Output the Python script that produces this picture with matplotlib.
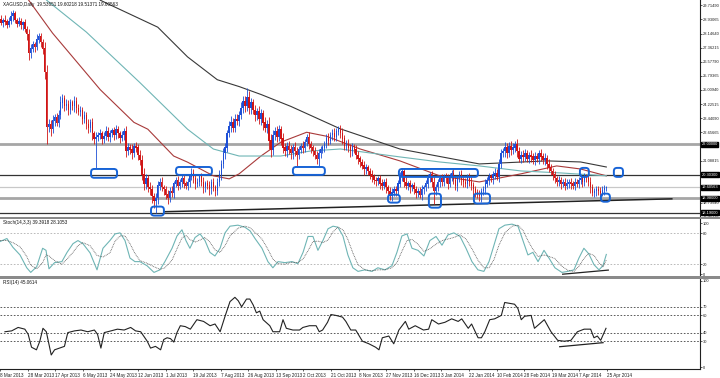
import matplotlib
matplotlib.use("Agg")
import matplotlib.pyplot as plt
from matplotlib.patches import FancyBboxPatch, Rectangle
import numpy as np

plt.rcParams["font.family"] = ["Liberation Sans Narrow", "Liberation Sans", "DejaVu Sans"]

# ---------------- data ----------------
first_bar = 2
first_open = 29.00
closes = [
    28.95, 28.75, 28.90, 28.80, 28.60, 28.85, 29.10, 29.25, 28.90, 28.70,
    28.85, 28.60, 28.75, 28.40, 28.10, 27.05, 27.30, 27.55, 27.40, 27.80,
    28.00, 27.65, 27.30, 26.00, 22.95, 23.10, 22.85, 23.30, 23.50, 23.20,
    23.60, 24.30, 24.55, 24.10, 24.20, 23.90, 24.30, 24.10, 24.40, 24.00,
    23.80, 23.90, 23.40, 23.60, 23.10, 22.90, 23.20, 22.60, 22.30, 22.40,
    22.50, 22.60, 22.30, 22.45, 22.70, 22.40, 22.60, 22.75, 22.50, 22.80,
    22.60, 22.35, 22.50, 22.70, 21.60, 21.80, 21.70, 21.50, 21.90, 21.80,
    21.40, 21.10, 20.30, 19.80, 20.10, 19.60, 19.50, 19.10, 18.85, 19.00,
    19.70, 19.90, 19.60, 19.50, 19.20, 19.00, 19.40, 19.30, 19.80, 20.00,
    19.70, 19.90, 20.10, 19.80, 19.70, 19.90, 20.20, 20.40, 20.10, 19.80,
    19.90, 20.20, 19.90, 19.60, 19.80, 19.70, 19.50, 19.90, 19.60, 19.40,
    19.90, 20.30, 20.90, 21.50, 21.80, 22.60, 23.00, 23.20, 22.90, 23.40,
    23.30, 23.60, 24.00, 24.40, 24.10, 24.60, 24.00, 24.30, 23.90, 23.60,
    23.80, 23.40, 23.70, 23.20, 22.90, 23.10, 22.20, 21.70, 22.50, 22.70,
    22.40, 22.80, 22.30, 21.80, 21.60, 21.90, 21.70, 21.50, 21.80, 21.60,
    21.40, 21.70, 21.90, 21.80, 22.10, 22.40, 22.00, 21.80, 21.60, 21.40,
    21.20, 21.50, 21.70, 21.80, 22.00, 22.30, 22.20, 22.50, 22.60, 22.40,
    22.70, 22.80, 22.60, 22.30, 21.90, 22.00, 21.80, 21.60, 21.80, 21.70,
    21.40, 21.20, 21.00, 20.80, 20.60, 20.70, 20.50, 20.30, 20.20, 20.00,
    19.95, 20.10, 19.80, 19.70, 19.90, 19.60, 19.40, 19.10, 19.30, 19.50,
    19.40, 19.80, 20.20, 20.50, 19.90, 19.70, 19.80, 19.60, 19.70, 19.50,
    19.30, 19.40, 19.20, 19.50, 19.60, 19.80, 20.10, 20.30, 19.90, 19.40,
    19.60, 19.90, 20.10, 19.90, 20.20, 20.10, 19.80, 20.20, 20.40, 20.00,
    19.70, 20.10, 20.30, 20.00, 19.90, 19.80, 20.20, 19.90, 19.70, 19.50,
    19.30, 19.20, 19.10, 19.40, 19.50, 19.80, 20.00, 20.20, 20.10, 20.30,
    20.40, 20.20, 20.90, 21.50, 21.60, 21.80, 21.50, 21.90, 21.70, 21.80,
    22.00, 21.60, 21.20, 21.40, 21.30, 21.50, 21.20, 21.40, 21.30, 21.10,
    21.30, 21.20, 21.50, 21.30, 21.10, 21.20, 20.90, 20.70, 20.50, 20.30,
    20.10, 19.90, 20.00, 19.80, 19.90, 19.70, 19.80, 19.90, 19.80, 19.70,
    19.90, 19.80, 20.00, 20.10, 19.90, 20.20, 20.10, 19.90, 19.60, 19.30,
    19.40, 19.50, 19.40, 19.30, 19.45, 19.55, 19.60,
]
wick_up = [
    .15, .20, .10, .25, .15, .20, .30, .20, .15, .10,
    .20, .15, .10, .20, .15, .30, .25, .20, .15, .30,
    .20, .15, .20, .35, .40, .30, .25, .30, .20, .25,
    .30, .40, .25, .20, .30, .25, .20, .15, .30, .20,
    .25, .20, .15, .25, .20, .30, .20, .25, .15, .30,
    .20, .25, .15, .20, .30, .25, .20, .15, .20, .25,
    .20, .15, .25, .20, .30, .25, .20, .30, .15, .20,
    .20, .25, .30, .35, .25, .20, .30, .25, .20, .30,
    .25, .20, .30, .15, .20, .25, .20, .30, .15, .20,
    .25, .15, .20, .25, .15, .20, .15, .30, .20, .25,
    .20, .15, .20, .25, .15, .20, .25, .15, .20, .15,
    .20, .25, .20, .30, .25, .20, .30, .35, .25, .30,
    .30, .25, .35, .30, .25, .50, .35, .25, .20, .30,
    .20, .30, .25, .20, .30, .25, .40, .35, .30, .25,
    .30, .25, .20, .30, .25, .20, .30, .25, .20, .30,
    .25, .20, .15, .30, .20, .15, .25, .20, .15, .25,
    .20, .25, .20, .15, .20, .25, .30, .20, .25, .30,
    .20, .20, .25, .30, .20, .25, .30, .20, .25, .20,
    .25, .20, .15, .20, .25, .20, .15, .20, .25, .15,
    .20, .15, .20, .25, .15, .20, .15, .20, .25, .20,
    .15, .20, .25, .15, .20, .25, .15, .20, .15, .20,
    .20, .15, .20, .25, .15, .20, .25, .15, .20, .30,
    .20, .15, .20, .25, .15, .20, .25, .20, .15, .20,
    .25, .15, .20, .25, .15, .20, .15, .20, .25, .20,
    .15, .20, .25, .15, .20, .25, .15, .20, .15, .20,
    .25, .20, .30, .25, .20, .30, .25, .20, .30, .25,
    .20, .30, .25, .20, .30, .25, .20, .15, .25, .20,
    .25, .20, .15, .25, .20, .30, .20, .25, .20, .15,
    .20, .15, .25, .20, .15, .20, .25, .15, .20, .15,
    .20, .15, .20, .25, .15, .20, .15, .20, .25, .20,
    .15, .20, .15, .20, .25, .20, .10,
]
wick_dn = [
    .20, .15, .25, .20, .15, .10, .20, .25, .15, .20,
    .15, .20, .25, .15, .30, .35, .25, .20, .30, .15,
    .20, .25, .30, .40, .95, .30, .40, .25, .30, .20,
    .25, .20, .30, .25, .20, .30, .25, .20, .30, .25,
    .20, .25, .30, .20, .25, .30, .20, .35, .30, 1.60,
    .25, .20, .30, .25, .20, .25, .30, .20, .25, .20,
    .25, .30, .20, .25, .30, .20, .25, .30, .20, .25,
    .30, .25, .30, .35, .30, .25, .30, .35, .40, .66,
    .30, .25, .20, .30, .25, .35, .20, .25, .30, .20,
    .25, .20, .30, .25, .20, .25, .30, .20, .25, .30,
    .20, .25, .20, .30, .25, .20, .30, .25, .20, .30,
    .25, .20, .30, .25, .30, .25, .20, .30, .25, .20,
    .25, .30, .20, .25, .30, .25, .30, .35, .25, .30,
    .25, .30, .35, .40, .25, .30, .45, .40, .30, .25,
    .30, .25, .35, .30, .25, .30, .25, .35, .30, .25,
    .60, .25, .20, .30, .25, .20, .25, .30, .25, .20,
    .30, .40, .25, .20, .25, .20, .25, .20, .25, .20,
    .25, .20, .25, .30, .25, .20, .25, .30, .25, .20,
    .25, .30, .25, .20, .30, .25, .20, .25, .30, .20,
    .25, .20, .30, .25, .20, .30, .25, .20, .25, .20,
    .30, .25, .20, .25, .30, .20, .25, .30, .20, .25,
    .30, .25, .20, .30, .25, .20, .25, .20, .30, .75,
    .25, .20, .30, .25, .20, .25, .30, .20, .25, .20,
    .25, .30, .20, .25, .30, .20, .25, .20, .25, .30,
    .25, .20, .25, .30, .20, .25, .20, .25, .20, .30,
    .25, .20, .30, .25, .20, .30, .25, .20, .30, .25,
    .25, .30, .20, .25, .30, .25, .20, .25, .30, .20,
    .25, .20, .30, .25, .20, .25, .30, .25, .20, .30,
    .25, .20, .25, .30, .20, .25, .20, .25, .30, .20,
    .25, .20, .25, .20, .30, .25, .20, .25, .30, .20,
    .25, .30, .20, .25, .20, .25, .15,
]

# moving averages (bar index, price)
ma_fast = [(15, 30.3), (29, 28.17), (53, 25.03), (70, 23.21), (77, 22.83), (90, 21.34),
           (97, 21.0), (110, 20.24), (118, 20.07), (123, 20.35), (134, 21.34), (144, 22.11),
           (157, 22.66), (167, 22.44), (184, 21.73), (204, 21.07), (224, 20.24), (244, 19.9),
           (265, 20.35), (283, 20.79), (295, 20.62), (308, 20.24)]
ma_mid = [(26, 30.0), (46, 28.23), (73, 25.42), (97, 22.83), (110, 21.73), (123, 21.34),
          (144, 21.34), (159, 21.62), (174, 21.73), (204, 21.29), (224, 21.01), (244, 20.79),
          (265, 20.51), (285, 20.40), (308, 20.24)]
ma_slow = [(53, 30.0), (82, 28.5), (97, 26.85), (112, 25.58), (123, 25.2), (134, 24.76),
           (149, 24.1), (174, 22.85), (204, 21.73), (244, 20.9), (278, 21.07), (295, 21.01),
           (308, 20.73)]

stoch_main = [(2.5, 64), (6, 70), (9, 53), (12.6, 38), (16, 13), (18, 4), (21, 15), (24, 51),
              (25.7, 47), (27.2, 11), (30, 23), (33.7, 25), (36.3, 43), (39.3, 60), (41.8, 66),
              (44.3, 60), (47.9, 42), (51.4, 9), (54.4, 51), (57.9, 66), (60.5, 79), (63, 81),
              (65.5, 66), (68, 32), (70.5, 25), (73, 25), (76.6, 17), (80.1, 4), (83.1, 9),
              (85.6, 25), (89.2, 51), (91.7, 75), (94.2, 87), (96.2, 66), (98.2, 51), (100.8, 72),
              (103.3, 79), (105.8, 66), (108.3, 43), (110.8, 36), (113.4, 51), (115.9, 81),
              (118.4, 94), (122.4, 96), (125.9, 92), (128.5, 85), (131, 70), (134.5, 51),
              (137.5, 25), (140, 13), (142.6, 25), (146.1, 23), (149.6, 25), (152.6, 21),
              (155.2, 43), (157.7, 74), (160.2, 74), (162.7, 47), (165.2, 66), (167.8, 89),
              (170.3, 94), (172.8, 92), (175.3, 75), (177.8, 38), (180.3, 13), (182.9, 6),
              (186.4, 9), (189.9, 6), (192.9, 13), (196.5, 9), (200, 17), (202.5, 43), (205, 75),
              (207.6, 79), (210.1, 51), (213.1, 47), (216.1, 36), (219.1, 66), (222.2, 74),
              (225.2, 57), (228.2, 77), (231.2, 81), (234.3, 74), (237.3, 51), (240.3, 25),
              (243.3, 9), (246.3, 6), (248.9, 25), (251.4, 57), (253.9, 89), (256.9, 96),
              (260.5, 98), (263.5, 94), (266, 66), (268.5, 38), (271, 43), (273.6, 25),
              (276.6, 47), (279.1, 32), (282.1, 13), (285.6, 4), (288.7, 6), (291.7, 9),
              (294.2, 32), (296.7, 51), (299.2, 40), (301.8, 19), (304.3, 9), (306.3, 17),
              (308, 39)]
stoch_signal = [66, 66, 62, 54, 35, 18, 11, 23, 38, 36, 27, 20, 30, 43, 56, 62, 56, 37, 34, 42,
                65, 75, 75, 60, 41, 27, 22, 15, 10, 13, 28, 50, 71, 76, 68, 63, 67, 72, 63, 48,
                43, 56, 75, 90, 94, 91, 82, 69, 49, 30, 21, 20, 24, 23, 30, 46, 64, 65, 62, 67,
                83, 92, 87, 68, 42, 19, 9, 7, 9, 9, 13, 23, 45, 66, 68, 59, 45, 50, 59, 66,
                69, 72, 77, 69, 50, 28, 13, 13, 29, 57, 81, 94, 96, 86, 66, 49, 35, 38, 35, 31,
                16, 8, 6, 16, 31, 41, 37, 23, 15, 28]

rsi_pts = [(2.5, 41), (5.9, 42), (9.2, 46), (12.6, 44), (14.3, 38), (16, 23), (18.5, 20),
           (20.2, 30), (21.8, 45), (23.5, 41), (26, 14), (27.7, 20), (32.7, 24), (34.4, 40),
           (37.8, 42), (41.1, 43), (44.5, 41), (47.9, 43), (49.5, 38), (51.2, 22), (52.9, 40),
           (56.3, 42), (59.6, 44), (63, 43), (66.3, 46), (68.8, 42), (71.4, 41), (74.7, 30),
           (76.4, 22), (78.9, 24), (81.5, 20), (83.1, 32), (84.8, 34), (86.5, 33), (88.2, 29),
           (89.8, 40), (91.5, 48), (94, 47), (96.6, 44), (99.9, 55), (103.3, 53), (106.6, 48),
           (109.1, 50), (111.7, 41), (114.2, 59), (116.7, 76), (119.2, 81), (120.9, 77),
           (122.6, 70), (125.1, 79), (126.8, 79), (128.5, 72), (130.1, 63), (131.8, 65),
           (133.5, 55), (136.9, 48), (138.5, 41), (141.9, 41), (143.6, 55), (145.3, 45),
           (148.6, 43), (152, 43), (153.7, 46), (157, 48), (160.4, 48), (162, 41), (163.7, 43),
           (166.2, 52), (167.9, 61), (170.4, 60), (173.8, 58), (175.5, 53), (178, 43),
           (180.5, 43), (183.9, 30), (187.2, 27), (190.6, 23), (192.3, 20), (194, 34),
           (197.3, 36), (199.8, 27), (202.4, 43), (205.7, 53), (207.4, 44), (210.7, 48),
           (214.9, 43), (217.5, 44), (219.1, 55), (222.5, 50), (225.8, 52), (229.2, 56),
           (232.5, 53), (234.3, 56), (237.6, 45), (239.3, 50), (242.6, 34), (244.3, 34),
           (246, 41), (248.5, 55), (251, 56), (254.4, 60), (256.1, 75), (258.6, 74),
           (261.1, 73), (262.8, 68), (264.5, 55), (266.2, 59), (269.5, 60), (271.2, 45),
           (273.7, 50), (276.2, 55), (279.6, 41), (283, 31), (286.3, 30), (289.7, 31),
           (293, 41), (296.4, 44), (299.7, 44), (301.4, 34), (303.1, 36), (304.8, 31),
           (307.5, 45)]

# horizontal levels and trendlines
h_levels = [22.0, 20.303, 19.60563, 18.98, 18.19]
h_colors = ["#a6a6a6", "#333333", "#c8c8c8", "#a6a6a6", "#333333"]
h_widths = [2.0, 0.9, 0.9, 2.0, 0.9]
h_labels = ["22.00000", "20.30300", "19.60563", "18.98000", "18.19000"]
trend_price = [(85.6, 18.245), (341, 18.96)]
trend_stoch = [(286, 0.5), (309, 8.5)]
trend_rsi = [(284, 23.6), (306, 28.3)]

# highlighted boxes (bar range, price range)
boxes = [(48.4, 61.5, 20.13, 20.62), (78.6, 85.1, 18.03, 18.53), (91.2, 109.3, 20.29, 20.73),
         (150.1, 166.2, 20.29, 20.73), (198.0, 204.0, 18.75, 19.19), (203.5, 243.3, 20.18, 20.62),
         (218.6, 224.7, 18.47, 19.25), (241.3, 249.4, 18.70, 19.25), (294.7, 299.2, 20.18, 20.68),
         (305.3, 309.8, 18.80, 19.25), (311.8, 316.4, 20.18, 20.68)]

price_ticks = [29.71490, 28.93065, 28.14640, 27.36215, 26.57790, 25.79365, 25.00940, 24.22515,
               23.44090, 22.65665, 21.87240, 21.08815, 20.30390, 19.51965, 18.73540, 17.95115]
stoch_levels = [80, 20]
stoch_ticks = [100, 80, 20, 0]
rsi_levels = [70, 60, 40, 30]
rsi_ticks = [100, 70, 60, 40, 30, 0]
date_labels = ["8 Mar 2013", "28 Mar 2013", "17 Apr 2013", "6 May 2013", "24 May 2013",
               "12 Jun 2013", "1 Jul 2013", "19 Jul 2013", "7 Aug 2013", "26 Aug 2013",
               "13 Sep 2013", "2 Oct 2013", "21 Oct 2013", "8 Nov 2013", "27 Nov 2013",
               "16 Dec 2013", "3 Jan 2014", "22 Jan 2014", "10 Feb 2014", "28 Feb 2014",
               "19 Mar 2014", "7 Apr 2014", "25 Apr 2014"]
date_step = 14

title_main = "XAGUSD,Daily  19.53651 19.60218 19.51371 19.60563"
title_stoch = "Stoch(14,3,3) 39.3918 28.1053"
title_rsi = "RSI(14) 45.0614"

# ---------------- drawing ----------------
W, H = 720, 378
fig = plt.figure(figsize=(W / 100, H / 100), dpi=100)
fig.patch.set_facecolor("white")
FS = 3.3
FSA = 2.9
right = 700 / W

def ax_at(top, bottom):
    return fig.add_axes([0, 1 - bottom / H, right, (bottom - top) / H])

ax = ax_at(0, 217)
axs = ax_at(219, 276)
axr = ax_at(279, 369)

xlim = (2.52, 355.2)
for a in (ax, axs, axr):
    a.set_xlim(*xlim)
    a.set_facecolor("white")
    for s in ("top", "left", "bottom"):
        a.spines[s].set_visible(False)
    a.spines["right"].set_color("#202020")
    a.spines["right"].set_linewidth(0.8)
    a.yaxis.tick_right()
    a.tick_params(axis="y", labelsize=FSA, length=1.2, width=0.5, pad=0.6, colors="#202020")
    a.tick_params(axis="x", bottom=False, labelbottom=False)

ax.set_ylim(17.97, 30.01)
axs.set_ylim(-3, 108)
axr.set_ylim(-2.3, 102.3)

# candles
n = len(closes)
idx = np.arange(first_bar, first_bar + n)
c = np.array(closes)
o = np.concatenate([[first_open], c[:-1]])
hi = np.maximum(o, c) + np.array(wick_up)
lo = np.minimum(o, c) - np.array(wick_dn)
up = c >= o
col_up, col_dn = "#1d4fd6", "#d01515"
colors = np.where(up, col_up, col_dn)
ax.vlines(idx, lo, hi, colors=colors, linewidth=0.6, zorder=3)
ax.bar(idx, np.abs(c - o) + 0.02, bottom=np.minimum(o, c), width=0.75, color=colors,
       linewidth=0, zorder=4)

# moving averages
for pts, colr in ((ma_fast, "#a83a3a"), (ma_mid, "#6fb5b5"), (ma_slow, "#383838")):
    xs, ys = zip(*pts)
    ax.plot(xs, ys, color=colr, linewidth=0.8, zorder=2)

# horizontal levels
for lv, colr, lw in zip(h_levels, h_colors, h_widths):
    ax.axhline(lv, color=colr, linewidth=lw, zorder=1)

# price trend line
tx, ty = zip(*trend_price)
ax.plot(tx, ty, color="#222222", linewidth=1.1, zorder=2)

# boxes
aspect = (12.04 / 217) / ((xlim[1] - xlim[0]) / 700)
for x0, x1, p0, p1 in boxes:
    ax.add_patch(FancyBboxPatch((x0, p0), x1 - x0, p1 - p0,
                                boxstyle="round,pad=0,rounding_size=1.6",
                                mutation_aspect=aspect, fill=False,
                                edgecolor="#1763d6", linewidth=1.4, zorder=6))

# price axis labels
ax.set_yticks(price_ticks)
ax.set_yticklabels([f"{v:.5f}" for v in price_ticks])
for lv, lab in zip(h_levels, h_labels):
    ax.text(1.0025, lv, lab, transform=ax.get_yaxis_transform(), fontsize=FSA, color="white",
            va="center", ha="left", zorder=10, clip_on=False,
            bbox=dict(boxstyle="square,pad=0.1", fc="black", ec="black"))

ax.text(0.004, 0.99, title_main, transform=ax.transAxes, fontsize=FS, va="top", ha="left",
        color="#111111")

# stochastic
sx, sv = zip(*stoch_main)
axs.plot(sx, sv, color="#6fb5b5", linewidth=0.8, zorder=3)
axs.plot(sx, stoch_signal, color="#555555", linewidth=0.6, linestyle=(0, (1, 1)), zorder=4)
for lv in stoch_levels:
    axs.axhline(lv, color="#b0b0b0", linewidth=0.6, linestyle=(0, (2, 2)))
tx, ty = zip(*trend_stoch)
axs.plot(tx, ty, color="#222222", linewidth=0.9)
axs.set_yticks(stoch_ticks)
axs.set_yticklabels([str(v) for v in stoch_ticks])
axs.text(0.004, 0.98, title_stoch, transform=axs.transAxes, fontsize=FS, va="top",
         ha="left", color="#111111")

# RSI
rx, rv = zip(*rsi_pts)
axr.plot(rx, rv, color="#222222", linewidth=0.8, zorder=3)
for lv in rsi_levels:
    axr.axhline(lv, color="#404040", linewidth=0.6, linestyle=(0, (2, 2)))
tx, ty = zip(*trend_rsi)
axr.plot(tx, ty, color="#222222", linewidth=0.9)
axr.set_yticks(rsi_ticks)
axr.set_yticklabels([str(v) for v in rsi_ticks])
axr.text(0.004, 0.985, title_rsi, transform=axr.transAxes, fontsize=FS, va="top",
         ha="left", color="#111111")

# date axis
axr.spines["bottom"].set_visible(True)
axr.spines["bottom"].set_color("#202020")
axr.spines["bottom"].set_linewidth(0.8)
axr.set_xticks(np.arange(len(date_labels)) * date_step)
axr.set_xticklabels(date_labels)
axr.tick_params(axis="x", bottom=True, labelbottom=True, labelsize=FS, length=1.5, width=0.5,
                pad=1.2, colors="#202020")
for t in axr.get_xticklabels():
    t.set_ha("left")

# panel separators
for top, bot, colr in ((217, 219, "#8a8a8a"), (276, 279, "#8a8a8a")):
    fig.add_artist(Rectangle((0, 1 - bot / H), 1, (bot - top) / H, transform=fig.transFigure,
                             facecolor=colr, edgecolor="none"))

fig.savefig("out.png", dpi=100, facecolor="white")
